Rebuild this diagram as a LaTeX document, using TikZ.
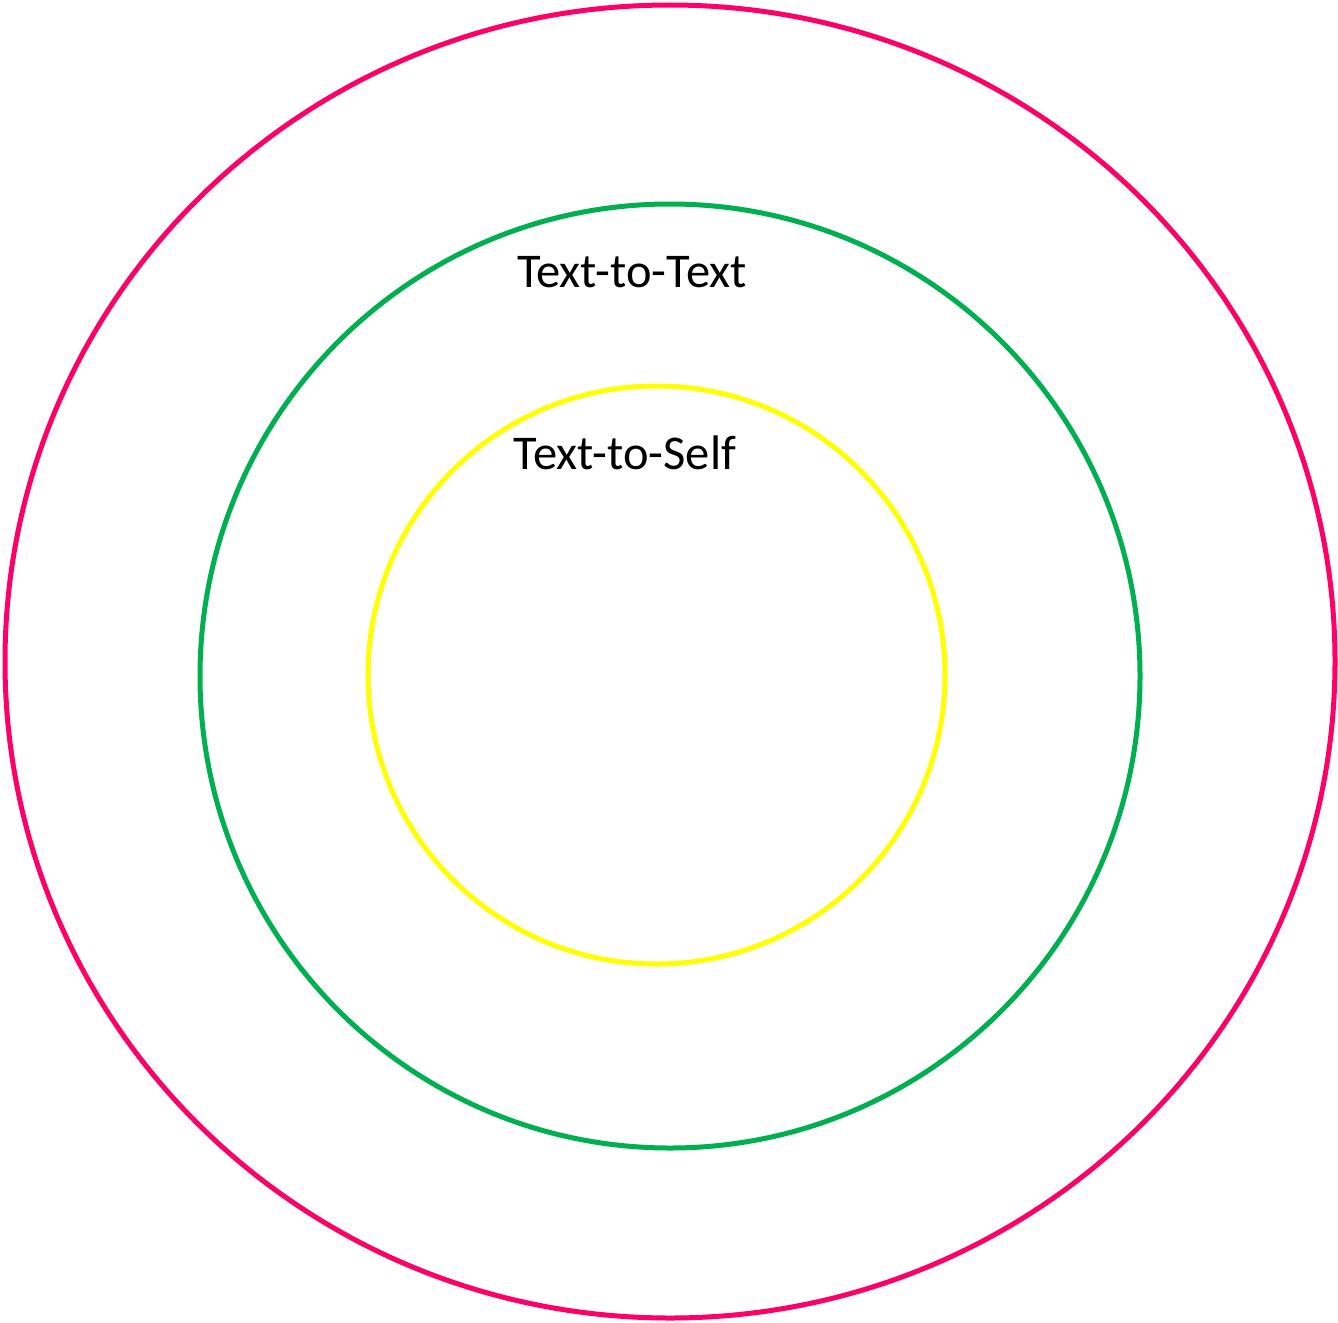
\documentclass[tikz,border=0pt]{standalone}
\usepackage{fontspec}
\setmainfont{Carlito}
\definecolor{ringpink}{HTML}{FF0066}
\definecolor{ringgreen}{HTML}{00B050}
\definecolor{ringyellow}{HTML}{FFFF00}
\begin{document}
\begin{tikzpicture}[x=1pt,y=-1pt,
  ring/.style={line width=5pt},
  lbl/.style={font=\fontsize{48.5}{52}\selectfont, inner sep=0pt, anchor=base}]
\useasboundingbox (0,0) rectangle (1338,1322);
\draw[ring, ringpink] (670,661.5) ellipse [x radius=665, y radius=656.5];
\draw[ring, ringgreen] (670,676) ellipse [x radius=470, y radius=472];
\draw[ring, ringyellow] (656.5,675) ellipse [x radius=288.5, y radius=289];
\node[lbl] (tt) at (632,287) {Text-to-Text};
\node[lbl] (ts) at (625,469) {Text-to-Self};
\end{tikzpicture}
\end{document}
